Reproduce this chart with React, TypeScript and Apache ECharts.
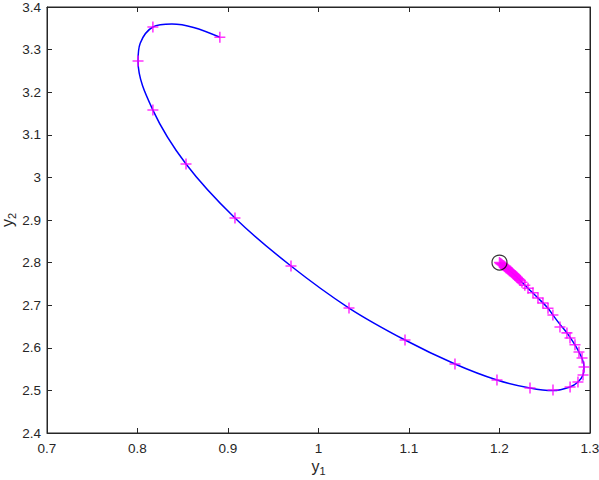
import React, { useEffect, useRef } from "react";
import * as echarts from "echarts";

// Trajectory curve (y1, y2)
const curveY1 = [
  1.2, 1.205, 1.21, 1.215, 1.22, 1.2248, 1.2315, 1.2425, 1.2536, 1.259, 1.2668,
  1.2745, 1.2834, 1.2878, 1.2912, 1.2934, 1.2923, 1.2867, 1.278, 1.2591, 1.2337,
  1.1972, 1.1508, 1.0956, 1.0337, 0.9696, 0.9077, 0.8536, 0.817, 0.8006, 0.803,
  0.817, 0.838, 0.862, 0.891,
];
const curveY2 = [
  2.8, 2.792, 2.783, 2.774, 2.764, 2.754, 2.74, 2.717, 2.693, 2.677, 2.655,
  2.635, 2.607, 2.59, 2.575, 2.555, 2.536, 2.5197, 2.508, 2.4995, 2.5056,
  2.5244, 2.562, 2.6183, 2.6934, 2.792, 2.9047, 3.0315, 3.158, 3.273, 3.315,
  3.353, 3.36, 3.352, 3.329,
];

// Solver step markers
const stepY1 = [
  1.2, 1.201, 1.202, 1.203, 1.204, 1.205, 1.206, 1.207, 1.208, 1.209, 1.21,
  1.211, 1.212, 1.213, 1.214, 1.215, 1.216, 1.217, 1.218, 1.219, 1.22, 1.221,
  1.222, 1.223, 1.2248, 1.228, 1.2315, 1.237, 1.2425, 1.248, 1.2536, 1.259,
  1.2668, 1.2745, 1.2779, 1.2834, 1.2878, 1.2912, 1.2934, 1.2923, 1.2867, 1.278,
  1.2591, 1.2337, 1.1972, 1.1508, 1.0956, 1.0337, 0.9696, 0.9077, 0.8536, 0.817,
  0.8006, 0.817, 0.891,
];
const stepY2 = [
  2.8, 2.798, 2.797, 2.795, 2.793, 2.792, 2.79, 2.788, 2.787, 2.785, 2.783,
  2.781, 2.78, 2.778, 2.776, 2.774, 2.772, 2.77, 2.768, 2.766, 2.764, 2.762,
  2.76, 2.758, 2.754, 2.747, 2.74, 2.729, 2.717, 2.705, 2.693, 2.677, 2.649,
  2.635, 2.623, 2.607, 2.59, 2.576, 2.555, 2.536, 2.5197, 2.508, 2.5009, 2.5056,
  2.5244, 2.562, 2.6183, 2.6934, 2.792, 2.9047, 3.0315, 3.158, 3.273, 3.353,
  3.329,
];

// Initial point
const startY1 = [1.2];
const startY2 = [2.8];

const AX = "#262626";
const FONT = "'Liberation Sans', Arial, Helvetica, sans-serif";
const PLUS =
  "path://M4.3,0 H5.7 V4.3 H10 V5.7 H5.7 V10 H4.3 V5.7 H0 V4.3 H4.3 Z";

export default function App() {
  const ref = useRef<HTMLDivElement>(null);
  useEffect(() => {
    if (!ref.current) return;
    const chart = echarts.init(ref.current, null, { renderer: "svg" });
    const zip = (a: number[], b: number[]) => a.map((v, i) => [v, b[i]]);
    const axisCommon = {
      type: "value" as const,
      splitLine: { show: false },
      axisLine: { show: true, onZero: false, lineStyle: { color: AX, width: 1 } },
      axisTick: { show: true, inside: true, length: 5, lineStyle: { color: AX } },
    };
    const nameStyle = {
      color: AX,
      fontFamily: FONT,
      rich: {
        a: { fontSize: 16, fontFamily: FONT, color: AX },
        b: { fontSize: 11, fontFamily: FONT, color: AX, padding: [8, 0, 0, 0] },
      },
    };
    chart.setOption({
      animation: false,
      backgroundColor: "#fff",
      grid: {
        left: 47,
        right: 9,
        top: 7,
        bottom: 47,
        show: true,
        borderColor: AX,
        borderWidth: 1,
        containLabel: false,
        outerBoundsMode: "none",
      },
      xAxis: [
        {
          ...axisCommon,
          min: 0.7,
          max: 1.3,
          interval: 0.1,
          position: "bottom",
          axisLabel: { color: AX, fontSize: 13.5, fontFamily: FONT, margin: 8 },
          name: "{a|y}{b|1}",
          nameLocation: "middle",
          nameGap: 24,
          nameMoveOverlap: false,
          nameTextStyle: nameStyle,
        },
        {
          ...axisCommon,
          min: 0.7,
          max: 1.3,
          interval: 0.1,
          position: "top",
          axisLabel: { show: false },
        },
      ],
      yAxis: [
        {
          ...axisCommon,
          min: 2.4,
          max: 3.4,
          interval: 0.1,
          position: "left",
          axisLabel: { color: AX, fontSize: 13.5, fontFamily: FONT, margin: 6 },
          name: "{a|y}{b|2}",
          nameLocation: "middle",
          nameRotate: 90,
          nameGap: 30,
          nameMoveOverlap: false,
          nameTextStyle: nameStyle,
        },
        {
          ...axisCommon,
          min: 2.4,
          max: 3.4,
          interval: 0.1,
          position: "right",
          axisLabel: { show: false },
        },
      ],
      series: [
        {
          type: "line",
          data: zip(curveY1, curveY2),
          smooth: 0.35,
          showSymbol: false,
          symbol: "none",
          lineStyle: { color: "#0000ff", width: 1.5 },
          z: 2,
        },
        {
          type: "scatter",
          data: zip(stepY1, stepY2),
          symbol: PLUS,
          symbolSize: 11,
          itemStyle: { color: "#ff00ff" },
          z: 3,
        },
        {
          type: "scatter",
          data: zip(startY1, startY2),
          symbol: "circle",
          symbolSize: 15,
          itemStyle: { color: "none", borderColor: "#000", borderWidth: 1.2 },
          z: 4,
        },
      ],
    });
    return () => chart.dispose();
  }, []);
  return (
    <div
      ref={ref}
      style={{ position: "fixed", left: 0, top: 0, width: 599, height: 480 }}
    />
  );
}
